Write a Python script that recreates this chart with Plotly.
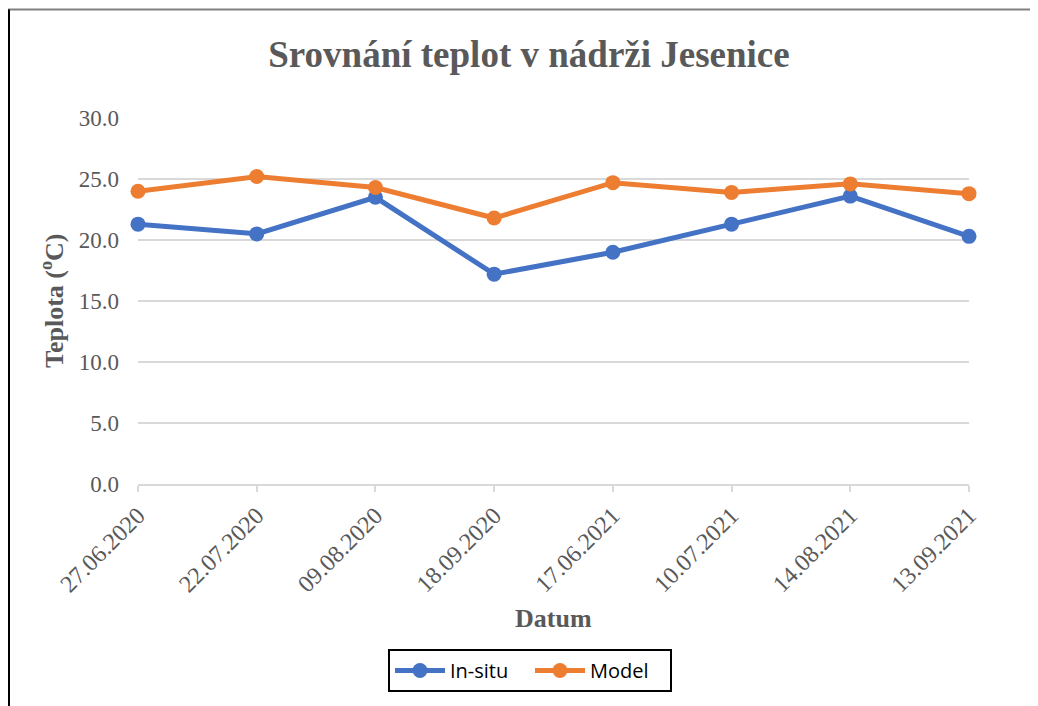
import plotly.graph_objects as go

dates = ["27.06.2020", "22.07.2020", "09.08.2020", "18.09.2020",
         "17.06.2021", "10.07.2021", "14.08.2021", "13.09.2021"]
in_situ = [21.3, 20.5, 23.5, 17.2, 19.0, 21.3, 23.6, 20.3]
model = [24.0, 25.2, 24.3, 21.8, 24.7, 23.9, 24.6, 23.8]
y_ticks = [0, 5, 10, 15, 20, 25, 30]
y_tick_labels = ["0.0", "5.0", "10.0", "15.0", "20.0", "25.0", "30.0"]

OFF = 8  # page body margin
W, H = 1038 - OFF, 706 - OFF
L, R, T, B = 138, 969, 118, 484  # plot area in page pixels


def px_x(x):
    return (x - L) / (R - L)


def px_y(y):
    return (B - y) / (B - T)


serif = "Liberation Serif, Times New Roman, serif"
gray = "#595959"

fig = go.Figure()
fig.add_trace(go.Scatter(
    x=dates, y=in_situ, name="In-situ", mode="lines+markers",
    line=dict(color="#4472C4", width=5),
    marker=dict(color="#4472C4", size=15),
    cliponaxis=False,
))
fig.add_trace(go.Scatter(
    x=dates, y=model, name="Model", mode="lines+markers",
    line=dict(color="#ED7D31", width=5),
    marker=dict(color="#ED7D31", size=15),
    cliponaxis=False,
))

fig.update_layout(
    width=W, height=H,
    margin=dict(l=L - OFF, r=W - (R - OFF), t=T - OFF, b=H - (B - OFF), autoexpand=False),
    paper_bgcolor="white", plot_bgcolor="white",
    title=dict(
        text="<b>Srovnání teplot v nádrži Jesenice</b>",
        font=dict(family=serif, size=37, color=gray),
        x=(529 - OFF) / W, xanchor="center", xref="container",
        y=1 - (54 - OFF) / H, yanchor="middle", yref="container",
    ),
    xaxis=dict(
        type="category", range=[0, len(dates) - 1],
        showgrid=False, showline=True, linecolor="#d9d9d9", linewidth=2,
        ticks="outside", ticklen=6, tickcolor="#d9d9d9", tickwidth=2,
        tickangle=-45, tickfont=dict(family=serif, size=24, color=gray),
        zeroline=False,
    ),
    yaxis=dict(
        range=[0, 30], tickvals=y_ticks, ticktext=y_tick_labels,
        showgrid=True, gridcolor="#d9d9d9", gridwidth=2,
        showline=False, zeroline=False, ticks="",
        tickfont=dict(family=serif, size=23, color=gray),
        ticklabelstandoff=18,
    ),
    showlegend=True,
    legend=dict(
        orientation="h", x=px_x(530), xanchor="center",
        y=px_y(649), yanchor="top",
        bordercolor="black", borderwidth=2,
        font=dict(family="Open Sans, Noto Sans, sans-serif", size=20, color="black"),
        itemwidth=50, entrywidth=75, tracegroupgap=0,
    ),
    annotations=[
        dict(text="<b>Datum</b>", x=px_x(553), y=px_y(618),
             xref="paper", yref="paper", showarrow=False,
             xanchor="center", yanchor="middle",
             font=dict(family=serif, size=26, color=gray)),
        dict(text="<b>Teplota (<sup>o</sup>C)</b>", x=px_x(52), y=px_y(301),
             xref="paper", yref="paper", showarrow=False, textangle=-90,
             xanchor="center", yanchor="middle",
             font=dict(family=serif, size=26, color=gray)),
    ],
    shapes=[
        dict(type="line", xref="paper", yref="paper",
             x0=px_x(8), x1=px_x(1040), y0=px_y(9.5), y1=px_y(9.5),
             line=dict(color="#808080", width=2)),
        dict(type="line", xref="paper", yref="paper",
             x0=px_x(9), x1=px_x(9), y0=px_y(9.5), y1=px_y(710),
             line=dict(color="black", width=2)),
    ],
)

fig.write_html("out.html")
